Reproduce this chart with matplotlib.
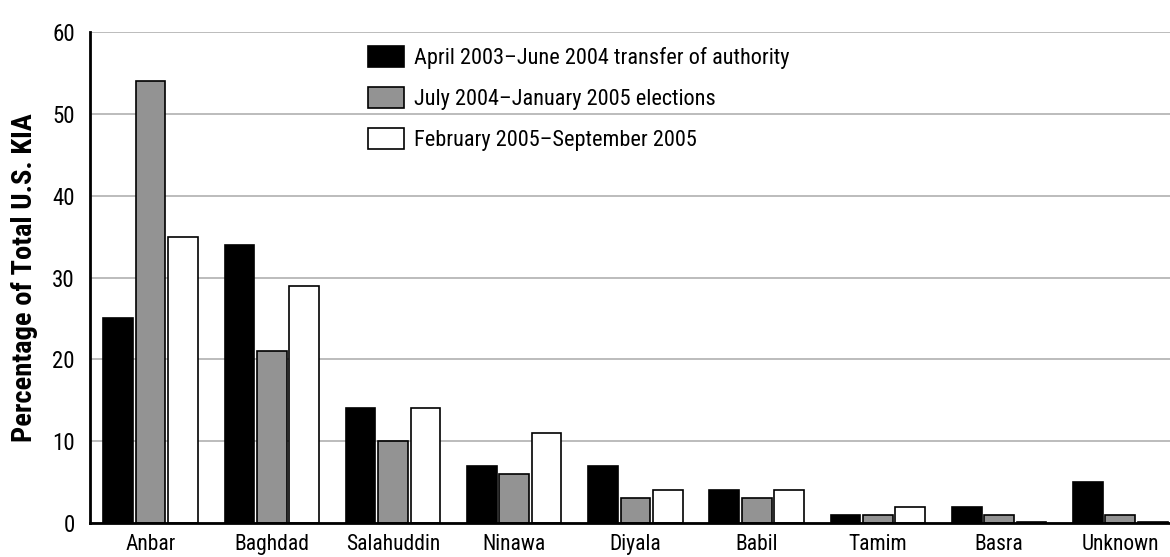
"""Share of U.S. KIA by province, three periods."""
import numpy as np
import matplotlib.pyplot as plt
from matplotlib.patches import Patch

plt.rcParams['font.family'] = ['Roboto Condensed', 'Liberation Sans Narrow',
                               'DejaVu Sans']
plt.rcParams['font.stretch'] = 'condensed'

provinces = ['Anbar', 'Baghdad', 'Salahuddin', 'Ninawa', 'Diyala',
             'Babil', 'Tamim', 'Basra', 'Unknown']
period_1 = [25, 34, 14, 7, 7, 4, 1, 2, 5]
period_2 = [54, 21, 10, 6, 3, 3, 1, 1, 1]
period_3 = [35, 29, 14, 11, 4, 4, 2, 0.1, 0.1]
labels = ['April 2003\u2013June 2004 transfer of authority',
          'July 2004\u2013January 2005 elections',
          'February 2005\u2013September 2005']
colors = ['#000000', '#939393', '#ffffff']
y_ticks = [0, 10, 20, 30, 40, 50, 60]


def plot_kia() -> None:
    fig = plt.figure(figsize=(11.7, 5.57), dpi=100)
    ax = fig.add_axes([0.0769, 0.061, 0.9231, 0.8815])

    x = np.arange(len(provinces))
    width = 0.245
    step = 0.267
    for i, vals in enumerate([period_1, period_2, period_3]):
        ax.bar(x + (i - 1) * step, vals, width, color=colors[i],
               edgecolor='black', linewidth=1.2, zorder=3)

    ax.set_xlim(-0.5, 8.41)
    ax.set_ylim(0, 60)
    ax.set_yticks(y_ticks)
    ax.set_xticks(x)
    ax.set_xticklabels(provinces)
    ax.yaxis.grid(True, color='#b0b0b0', linewidth=1.2, zorder=0)
    ax.tick_params(axis='both', length=0)
    ax.tick_params(axis='y', pad=11, labelsize=16.5)
    ax.tick_params(axis='x', pad=8, labelsize=15.5)
    for s in ['top', 'right']:
        ax.spines[s].set_visible(False)
    ax.spines['left'].set_linewidth(2)
    ax.spines['bottom'].set_linewidth(2)
    ax.spines['left'].set_zorder(4)
    ax.spines['bottom'].set_zorder(4)

    ax.set_ylabel('Percentage of Total U.S. KIA', fontsize=20.5,
                  fontweight='bold', labelpad=10)

    handles = [Patch(facecolor=c, edgecolor='black', linewidth=1.2)
               for c in colors]
    leg = ax.legend(handles, labels, loc='upper left',
                    bbox_to_anchor=(0.2574, 0.972), frameon=False,
                    fontsize=16, handlelength=1.6, handleheight=1.1,
                    labelspacing=0.8, handletextpad=0.45, borderpad=0,
                    borderaxespad=0)
    leg.set_zorder(5)

    fig.savefig('out.png')


if __name__ == '__main__':
    plot_kia()
